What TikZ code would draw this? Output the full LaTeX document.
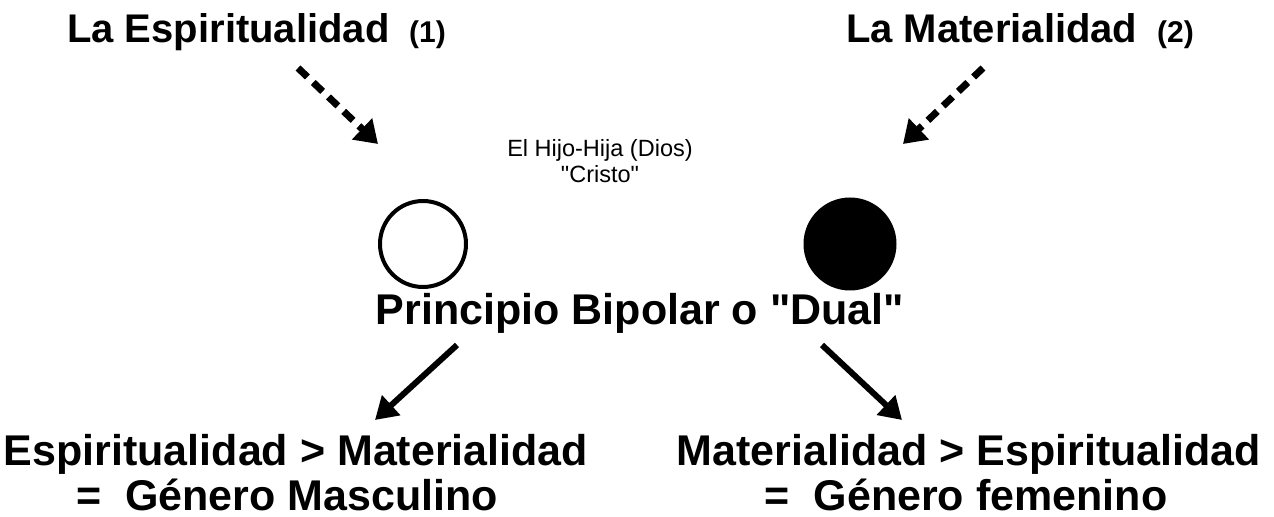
\documentclass[tikz,border=0pt]{standalone}
\usepackage{fontspec}
\newfontfamily\arial{Liberation Sans}
\usetikzlibrary{arrows.meta}
\begin{document}
\begin{tikzpicture}[x=1bp,y=-1bp,
  title/.style={font=\arial\fontsize{40bp}{44bp}\selectfont\bfseries, inner sep=0pt, anchor=base west},
  num/.style={font=\arial\fontsize{30bp}{33bp}\selectfont\bfseries, inner sep=0pt, anchor=base west},
  big/.style={font=\arial\fontsize{43bp}{47bp}\selectfont\bfseries, inner sep=0pt, anchor=base},
  small/.style={font=\arial\fontsize{23.5bp}{27bp}\selectfont, inner sep=0pt, anchor=base},
  dasharrow/.style={line width=7bp, dash pattern=on 13bp off 8bp, -{Triangle[length=22bp,width=28bp]}},
  solidarrow/.style={line width=6bp, -{Triangle[length=22bp,width=26bp]}}]
\useasboundingbox (0,0) rectangle (1274,517);
\node[title] (t1) at (67,43) {La Espiritualidad};
\node[num] (t1n) at (409,43) {(1)};
\node[title] (t2) at (846,43) {La Materialidad};
\node[num] (t2n) at (1157,43) {(2)};
\coordinate (d1s) at (298,68);
\coordinate (d1e) at (378,144);
\coordinate (d2s) at (983,68);
\coordinate (d2e) at (903,144);
\draw[dasharrow] (d1s) -- (d1e);
\draw[dasharrow] (d2s) -- (d2e);
\node[small] (hijo) at (600,157) {El Hijo-Hija (Dios)};
\node[small] (cristo) at (600,183) {"Cristo"};
\node[circle, draw, line width=4bp, minimum size=86bp, inner sep=0pt] (c1) at (423,244) {};
\node[circle, fill=black, minimum size=93bp, inner sep=0pt] (c2) at (850,244) {};
\node[big] (pr) at (640,325) {Principio Bipolar o "Dual"};
\coordinate (a1s) at (457,345);
\coordinate (a1e) at (375,420);
\coordinate (a2s) at (822,345);
\coordinate (a2e) at (902,420);
\draw[solidarrow] (a1s) -- (a1e);
\draw[solidarrow] (a2s) -- (a2e);
\node[big] (l1) at (296,465) {Espiritualidad > Materialidad};
\node[big] (l2) at (287,510) {=\ \ Género Masculino};
\node[big] (r1) at (969,465) {Materialidad > Espiritualidad};
\node[big] (r2) at (966,510) {=\ \ Género femenino};
\end{tikzpicture}
\end{document}
